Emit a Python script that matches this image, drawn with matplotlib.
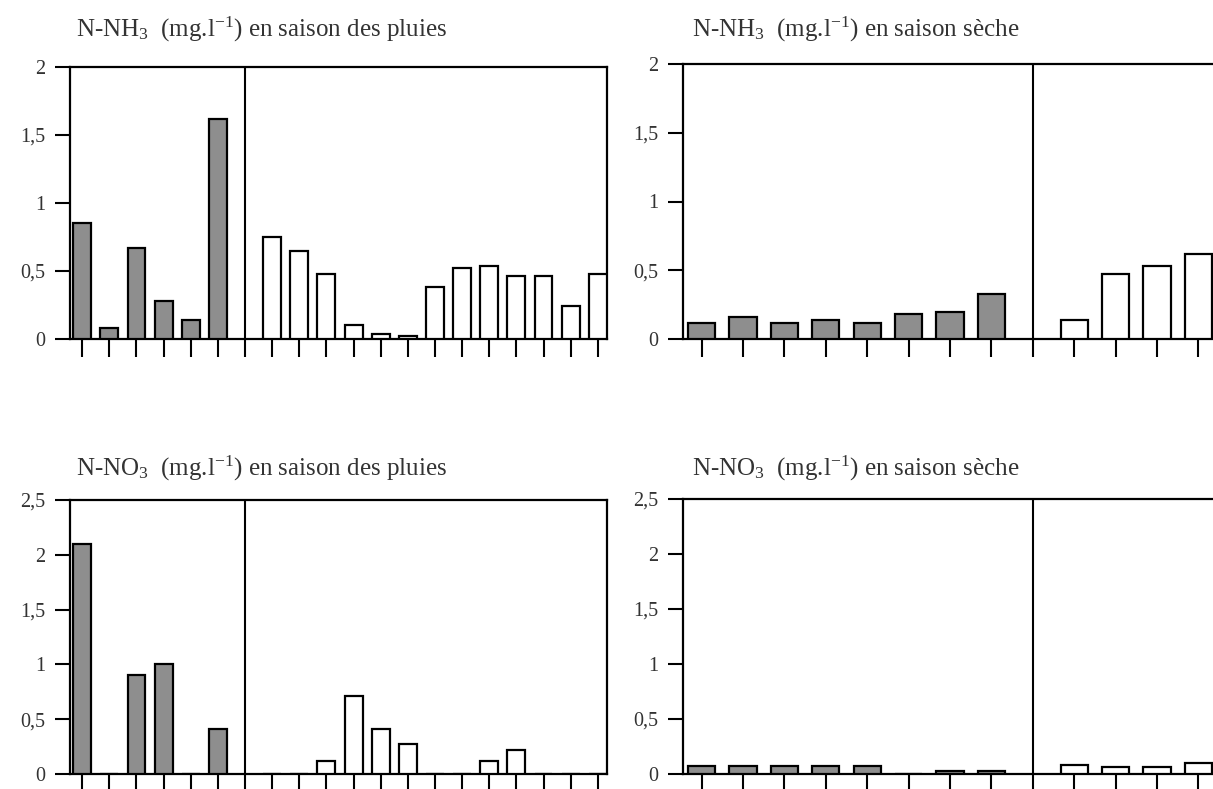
import matplotlib.pyplot as plt
import numpy as np

# values
nh3_pluies_gris = [0.85, 0.08, 0.67, 0.28, 0.14, 1.62]
nh3_pluies_blanc = [0.75, 0.65, 0.48, 0.10, 0.04, 0.02, 0.38, 0.52, 0.54, 0.46, 0.46, 0.24, 0.48]
nh3_seche_gris = [0.12, 0.16, 0.12, 0.14, 0.12, 0.18, 0.20, 0.33]
nh3_seche_blanc = [0.14, 0.47, 0.53, 0.62]
no3_pluies_gris = [2.1, 0, 0.9, 1.0, 0, 0.41]
no3_pluies_blanc = [0, 0, 0.12, 0.71, 0.41, 0.27, 0, 0, 0.12, 0.22, 0, 0, 0]
no3_seche_gris = [0.07, 0.07, 0.07, 0.07, 0.07, 0, 0.03, 0.03]
no3_seche_blanc = [0.08, 0.06, 0.06, 0.10]

titres = [
    "N-NH$_3$  (mg.l$^{-1}$) en saison des pluies",
    "N-NH$_3$  (mg.l$^{-1}$) en saison sèche",
    "N-NO$_3$  (mg.l$^{-1}$) en saison des pluies",
    "N-NO$_3$  (mg.l$^{-1}$) en saison sèche",
]
ticks_nh3 = ["0", "0,5", "1", "1,5", "2"]
ticks_no3 = ["0", "0,5", "1", "1,5", "2", "2,5"]

plt.rcParams['font.family'] = ['Liberation Serif', 'DejaVu Serif']
plt.rcParams['mathtext.fontset'] = 'custom'
plt.rcParams['mathtext.rm'] = 'Liberation Serif'
plt.rcParams['mathtext.it'] = 'Liberation Serif'
plt.rcParams['mathtext.default'] = 'regular'

W, H = 1213, 789
fig = plt.figure(figsize=(W / 100, H / 100), dpi=100)
GRIS = '#8e8e8e'
TXT = '#333333'


def box(left, top, right, bottom):
    return [left / W, 1 - bottom / H, (right - left) / W, (bottom - top) / H]


def panel(rect, gris, blanc, split, xmax, yticks, ylabels, titre, tx, ty):
    ax = fig.add_axes(rect)
    n_g = len(gris)
    ax.bar(np.arange(n_g), gris, width=0.66, color=GRIS, edgecolor='black', linewidth=1.6, zorder=3)
    ax.bar(np.arange(split + 1, split + 1 + len(blanc)), blanc, width=0.66, color='white',
           edgecolor='black', linewidth=1.6, zorder=3)
    ax.axvline(split, color='black', linewidth=1.5, zorder=4)
    ax.set_xlim(-0.45, xmax)
    ax.set_ylim(0, yticks[-1])
    ax.set_xticks(np.arange(0, int(xmax) + 1))
    ax.set_xticklabels([])
    ax.set_yticks(yticks)
    ax.set_yticklabels(ylabels, color=TXT, fontsize=14.5)
    ax.tick_params(axis='y', direction='out', length=11, width=1.5, pad=7)
    ax.tick_params(axis='x', direction='out', length=13, width=1.5)
    for s in ax.spines.values():
        s.set_linewidth(1.6)
    fig.text(tx / W, 1 - ty / H, titre, fontsize=18, color=TXT, va='baseline', ha='left')
    return ax


# right panels run past the edge of the scan
right_px = 683 + (13.5 + 0.45) * 41.4
panel(box(70, 67, 607, 339), nh3_pluies_gris, nh3_pluies_blanc, 6, 19.34,
      [0, 0.5, 1, 1.5, 2], ticks_nh3, titres[0], 76, 37)
panel(box(683, 64, right_px, 339), nh3_seche_gris, nh3_seche_blanc, 8, 13.5,
      [0, 0.5, 1, 1.5, 2], ticks_nh3, titres[1], 692, 37)
panel(box(70, 500, 607, 774), no3_pluies_gris, no3_pluies_blanc, 6, 19.34,
      [0, 0.5, 1, 1.5, 2, 2.5], ticks_no3, titres[2], 76, 476)
panel(box(683, 499, right_px, 774), no3_seche_gris, no3_seche_blanc, 8, 13.5,
      [0, 0.5, 1, 1.5, 2, 2.5], ticks_no3, titres[3], 692, 476)

fig.savefig("out.png", dpi=100)
